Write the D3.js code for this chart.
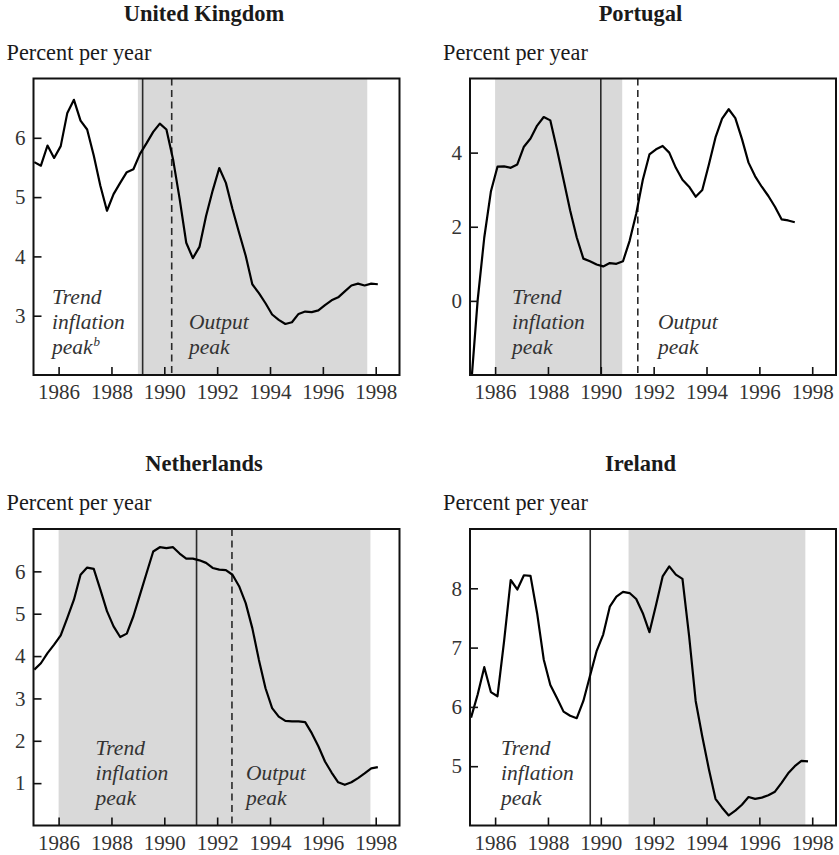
<!DOCTYPE html>
<html><head><meta charset="utf-8">
<script src="https://cdn.jsdelivr.net/npm/d3@7"></script>
<style>
body{margin:0;background:#fff}
svg{display:block}
svg text{font-family:"Liberation Serif","Times New Roman",Times,serif !important;}
</style>
</head><body><svg id="c" width="839" height="855"></svg>
<script>
// ---------- DATA ----------
const countries = ["United Kingdom", "Portugal", "Netherlands", "Ireland"];
const yAxisLabel = "Percent per year";
const xTicks = [1986, 1988, 1990, 1992, 1994, 1996, 1998];

// quarterly series (first quarter position, then values)
const ukStart = 1985.08;
const ukValues = [5.59,5.53,5.87,5.66,5.86,6.42,6.64,6.29,6.14,5.70,
  5.19,4.77,5.05,5.24,5.42,5.47,5.73,5.91,6.10,6.24,
  6.14,5.64,4.97,4.23,3.97,4.16,4.68,5.11,5.49,5.24,
  4.80,4.40,4.01,3.53,3.38,3.21,3.02,2.93,2.86,2.89,
  3.03,3.07,3.06,3.09,3.18,3.26,3.31,3.41,3.51,3.54,
  3.51,3.54,3.53];
const ptStart = 1985.09;
const ptValues = [-2.3,0.02,1.71,2.95,3.62,3.63,3.59,3.68,4.16,4.38,
  4.73,4.96,4.87,4.09,3.27,2.44,1.71,1.14,1.07,0.98,
  0.93,1.02,1.00,1.07,1.62,2.35,3.27,3.95,4.09,4.18,
  4.00,3.59,3.27,3.08,2.81,2.99,3.68,4.41,4.92,5.17,
  4.93,4.37,3.73,3.36,3.08,2.83,2.54,2.20,2.17,2.12];
const nlStart = 1985.08;
const nlValues = [3.68,3.83,4.07,4.27,4.49,4.90,5.33,5.92,6.09,6.06,
  5.57,5.06,4.70,4.45,4.53,4.94,5.45,5.96,6.47,6.57,
  6.55,6.57,6.42,6.30,6.30,6.26,6.20,6.08,6.04,6.03,
  5.92,5.65,5.25,4.66,3.91,3.24,2.77,2.57,2.47,2.46,
  2.46,2.44,2.18,1.87,1.51,1.25,1.02,0.96,1.02,1.12,
  1.23,1.35,1.38];
const ieStart = 1985.09;
const ieValues = [5.82,6.21,6.67,6.25,6.18,7.11,8.14,7.98,8.22,8.21,
  7.58,6.80,6.37,6.15,5.92,5.85,5.81,6.10,6.52,6.94,
  7.22,7.69,7.86,7.94,7.92,7.82,7.58,7.26,7.72,8.20,
  8.37,8.23,8.16,7.20,6.10,5.50,4.95,4.45,4.30,4.17,
  4.25,4.35,4.48,4.45,4.47,4.51,4.57,4.72,4.88,5.00,
  5.09,5.08];

const ukYDomain = [2, 7], ptYDomain = [-2, 6], nlYDomain = [0, 7], ieYDomain = [4, 9];
const ukYTicks = [3,4,5,6], ptYTicks = [0,2,4], nlYTicks = [1,2,3,4,5,6], ieYTicks = [5,6,7,8];

// shaded periods and peak dates
const ukShade = [1989.0, 1997.68], ptShade = [1986.0, 1990.81], nlShade = [1986.0, 1997.8], ieShade = [1991.05, 1997.74];
const ukTrendPeak = 1989.18, ptTrendPeak = 1990.0, nlTrendPeak = 1991.22, ieTrendPeak = 1989.6;
const ukOutputPeak = 1990.28, ptOutputPeak = 1991.4, nlOutputPeak = 1992.56, ieOutputPeak = null;

const trendLabel = ["Trend", "inflation", "peak"];
const outputLabel = ["Output", "peak"];
const xDomain = [1985.05, 1998.9];

// ---------- LAYOUT ----------
const W = 366, H = 296.5;
const panels = [
  {name: countries[0], left: 33.5, top: 78.5, start: ukStart, values: ukValues, yd: ukYDomain, yt: ukYTicks,
   shade: ukShade, tp: ukTrendPeak, op: ukOutputPeak, trendX: 52, outX: 189, sup: "b"},
  {name: countries[1], left: 470, top: 78.5, start: ptStart, values: ptValues, yd: ptYDomain, yt: ptYTicks,
   shade: ptShade, tp: ptTrendPeak, op: ptOutputPeak, trendX: 512, outX: 658, sup: null},
  {name: countries[2], left: 33.5, top: 529, start: nlStart, values: nlValues, yd: nlYDomain, yt: nlYTicks,
   shade: nlShade, tp: nlTrendPeak, op: nlOutputPeak, trendX: 95.5, outX: 246, sup: null},
  {name: countries[3], left: 470, top: 529, start: ieStart, values: ieValues, yd: ieYDomain, yt: ieYTicks,
   shade: ieShade, tp: ieTrendPeak, op: ieOutputPeak, trendX: 501, outX: null, sup: null}
];

const FONT = "Liberation Serif, Times New Roman, serif";
const svg = d3.select("#c");

panels.forEach((p, i) => {
  const g = svg.append("g").attr("transform", `translate(${p.left},${p.top})`);
  const x = d3.scaleLinear().domain(xDomain).range([0, W]);
  const y = d3.scaleLinear().domain(p.yd).range([H, 0]);
  const data = p.values.map((v, k) => ({t: p.start + k * 0.25, v}));

  // title and unit label
  g.append("text").attr("x", W / 2 - 12.5).attr("y", -58).attr("text-anchor", "middle")
    .attr("font-family", FONT).attr("font-weight", "bold").attr("font-size", 22.5).attr("fill", "#1a1a1a")
    .text(p.name);
  g.append("text").attr("x", -27).attr("y", -19).attr("font-family", FONT).attr("font-size", 22.3)
    .attr("fill", "#1a1a1a").text(yAxisLabel);

  // shading
  g.append("rect").attr("x", x(p.shade[0])).attr("y", 0)
    .attr("width", x(p.shade[1]) - x(p.shade[0])).attr("height", H).attr("fill", "#d9d9d9");

  // peak lines
  g.append("line").attr("x1", x(p.tp)).attr("x2", x(p.tp)).attr("y1", 0).attr("y2", H)
    .attr("stroke", "#2a2a2a").attr("stroke-width", 1.6);
  if (p.op !== null) {
    g.append("line").attr("x1", x(p.op)).attr("x2", x(p.op)).attr("y1", 0).attr("y2", H)
      .attr("stroke", "#2a2a2a").attr("stroke-width", 1.6).attr("stroke-dasharray", "7,4.5");
  }

  // series
  const cid = "clip" + i;
  g.append("clipPath").attr("id", cid).append("rect").attr("width", W).attr("height", H);
  g.append("path").datum(data).attr("clip-path", `url(#${cid})`)
    .attr("fill", "none").attr("stroke", "#000").attr("stroke-width", 2.2).attr("stroke-linejoin", "round")
    .attr("d", d3.line().x(d => x(d.t)).y(d => y(d.v)));

  // annotations
  const tg = g.append("g").attr("font-family", FONT).attr("font-style", "italic").attr("font-size", 21.5).attr("fill", "#333");
  trendLabel.forEach((s, k) => {
    const t = tg.append("text").attr("x", p.trendX - p.left).attr("y", H - 71 + k * 25).text(s);
    if (k === 2 && p.sup) t.append("tspan").attr("font-size", 13).attr("dy", -8).attr("dx", 1).text(p.sup);
  });
  if (p.outX !== null) {
    outputLabel.forEach((s, k) => {
      tg.append("text").attr("x", p.outX - p.left).attr("y", H - 46 + k * 25).text(s);
    });
  }

  // axes
  const xa = g.append("g").attr("transform", `translate(0,${H})`)
    .call(d3.axisBottom(x).tickValues(xTicks).tickSizeInner(-8).tickSizeOuter(0).tickFormat(d3.format("d")));
  const ya = g.append("g")
    .call(d3.axisLeft(y).tickValues(p.yt).tickSizeInner(-8).tickSizeOuter(0).tickPadding(8).tickFormat(d3.format("d")));
  [xa, ya].forEach(a => {
    a.attr("font-family", FONT).attr("font-size", 21);
    a.select(".domain").remove();
    a.selectAll("line").attr("stroke", "#111").attr("stroke-width", 1.6);
    a.selectAll("text").attr("font-family", FONT).attr("font-size", 21).attr("fill", "#333");
  });
  xa.selectAll("text").attr("y", 24).attr("dy", null);

  // frame
  g.append("rect").attr("width", W).attr("height", H).attr("fill", "none")
    .attr("stroke", "#111").attr("stroke-width", 2);
});
</script></body></html>
